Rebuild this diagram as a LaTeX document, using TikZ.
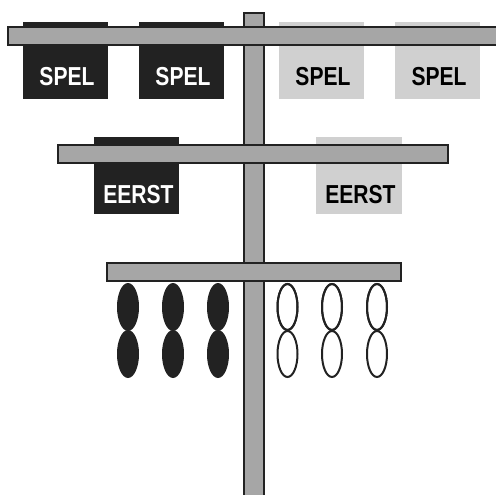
\documentclass[tikz,border=0pt]{standalone}
\usepackage{fontspec}
\newfontfamily\labelfont{Liberation Sans}[FakeStretch=0.81]
\definecolor{ink}{HTML}{222222}
\definecolor{bargray}{HTML}{A6A6A6}
\definecolor{paleshade}{HTML}{D0D0D0}
\begin{document}
\begin{tikzpicture}[x=1pt,y=-1pt,
  rail/.style={draw=ink, line width=2pt, fill=bargray},
  darkcard/.style={fill=ink},
  palecard/.style={fill=paleshade},
  cardtext/.style={font=\labelfont\bfseries\fontsize{26}{26}\selectfont, inner sep=0pt, anchor=base},
  darkbead/.style={fill=ink},
  openbead/.style={draw=ink, line width=2pt, fill=white}]
\useasboundingbox (0,0) rectangle (496,495);
\clip (0,0) rectangle (496,495);

% cards hanging from the top rail
\fill[darkcard] (23,22) rectangle (108,99);
\fill[darkcard] (139,22) rectangle (224,99);
\fill[palecard] (279,22) rectangle (364,99);
\fill[palecard] (395,22) rectangle (480,99);

% cards hanging from the middle rail
\fill[darkcard] (94,137) rectangle (179,214);
\fill[palecard] (316,137) rectangle (402,214);

% upright post
\path[rail] (244,13) rectangle (264,505);

% the three cross rails
\path[rail] (8,27) rectangle (500,45);
\path[rail] (58,145) rectangle (448,163);
\path[rail] (107,263) rectangle (401,281);

% beads below the lowest rail
\foreach \x in {128,173,218} {
  \fill[darkbead] (\x,307) ellipse [x radius=11, y radius=24];
  \fill[darkbead] (\x,354) ellipse [x radius=11, y radius=24];
}
\foreach \x in {287.5,332,377} {
  \path[openbead] (\x,307) ellipse [x radius=10, y radius=23];
  \path[openbead] (\x,354) ellipse [x radius=10, y radius=23];
  \draw[ink, line width=2pt] (\x,307) ellipse [x radius=10, y radius=23];
}

% card labels
\node[cardtext, text=white] (spelA) at (67,86) {SPEL};
\node[cardtext, text=white] (spelB) at (183,86) {SPEL};
\node[cardtext, text=black] (spelC) at (323,86) {SPEL};
\node[cardtext, text=black] (spelD) at (439,86) {SPEL};
\node[cardtext, text=white] (eerstA) at (138.5,204) {EERST};
\node[cardtext, text=black] (eerstB) at (360.5,204) {EERST};
\end{tikzpicture}
\end{document}
